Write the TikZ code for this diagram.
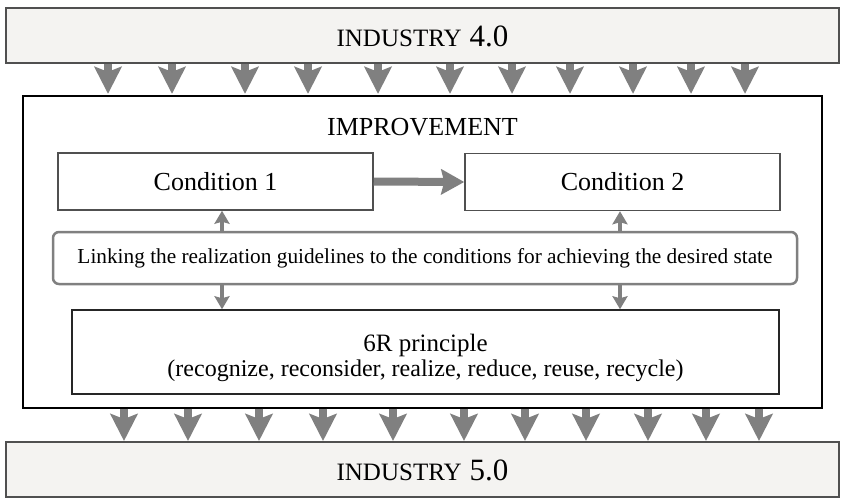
\documentclass[tikz,border=0pt]{standalone}
\usepackage{fontspec}
\setmainfont{Liberation Serif}
\usetikzlibrary{arrows.meta}
\definecolor{arrgray}{HTML}{808080}
\definecolor{boxfill}{HTML}{F4F3F1}
\definecolor{edgegray}{HTML}{505050}
\tikzset{
  outerbox/.style={draw=edgegray, line width=2pt, fill=boxfill, minimum width=833pt, minimum height=55pt, inner sep=0pt},
  innerbox/.style={draw=black, line width=1.3pt, fill=white, minimum width=799pt, minimum height=312pt, inner sep=0pt},
  condbox/.style={draw=edgegray, line width=1.5pt, fill=white, minimum width=315pt, minimum height=57pt, inner sep=0pt, font=\fontsize{26}{30}\selectfont},
  linkbox/.style={draw=arrgray, line width=2.5pt, rounded corners=6pt, fill=white, minimum width=744pt, minimum height=52pt, inner sep=0pt, font=\fontsize{21.3}{25}\selectfont},
  rbox/.style={draw=black!85, line width=1.5pt, fill=white, minimum width=707pt, minimum height=84pt, inner sep=0pt},
  bigdown/.style={draw=arrgray, line width=8pt, -{Stealth[length=27pt, width=27pt, inset=5pt]}},
  bigright/.style={draw=arrgray, line width=8pt, -{Stealth[length=23pt, width=25pt, inset=3pt]}},
  smallarr/.style={draw=arrgray, line width=4.5pt, -{Stealth[length=13pt, width=15pt, inset=2pt]}},
  lbl/.style={inner sep=0pt}
}
\begin{document}
\begin{tikzpicture}[x=1pt, y=-1pt]
\useasboundingbox (0,0) rectangle (845,498);
% outer boxes
\node[outerbox] (top) at (422.5,35.5) {};
\node[lbl] (toplbl) at (422.5,36.5) {{\fontsize{25}{30}\selectfont INDUSTRY}\hspace{8pt}{\fontsize{31}{34}\selectfont 4.0}};
\node[outerbox] (bot) at (422.5,469.5) {};
\node[lbl] (botlbl) at (422.5,470.5) {{\fontsize{25}{30}\selectfont INDUSTRY}\hspace{8pt}{\fontsize{31}{34}\selectfont 5.0}};
% inner box
\node[innerbox] (inner) at (422.5,252) {};
\node[lbl, font=\fontsize{26}{30}\selectfont] (impr) at (422.5,127) {IMPROVEMENT};
% conditions
\node[condbox] (c1) at (215.5,181.5) {Condition 1};
\node[condbox] (c2) at (622.5,182) {Condition 2};
% linking
\node[linkbox] (link) at (425,258) {Linking the realization guidelines to the conditions for achieving the desired state};
% 6R
\node[rbox] (r6) at (425.5,352) {};
\node[lbl, font=\fontsize{25}{28}\selectfont] (r6a) at (425.5,345) {6R principle};
\node[lbl, font=\fontsize{24}{28}\selectfont] (r6b) at (425.5,371) {(recognize, reconsider, realize, reduce, reuse, recycle)};
% horizontal arrow
\draw[bigright] (c1.east) -- (c2.west);
% small vertical arrows
\coordinate (vx1) at (222,0);
\coordinate (vx2) at (620,0);
\draw[smallarr] (link.north -| vx1) -- (c1.south -| vx1);
\draw[smallarr] (link.north -| vx2) -- (c2.south -| vx2);
\draw[smallarr] (link.south -| vx1) -- (r6.north -| vx1);
\draw[smallarr] (link.south -| vx2) -- (r6.north -| vx2);
% top arrows
\foreach \xx [count=\i] in {108,172,245,308,378,450,512,570,633,691,745} {
  \coordinate (ta\i) at (\xx,0);
  \draw[bigdown] (top.south -| ta\i) -- ([yshift=1.5pt]inner.north -| ta\i);
}
% bottom arrows
\foreach \xx [count=\i] in {124,188,259,323,393,464,525,586,648,706,759} {
  \coordinate (ba\i) at (\xx,0);
  \draw[bigdown] (inner.south -| ba\i) -- (bot.north -| ba\i);
}
\end{tikzpicture}
\end{document}
